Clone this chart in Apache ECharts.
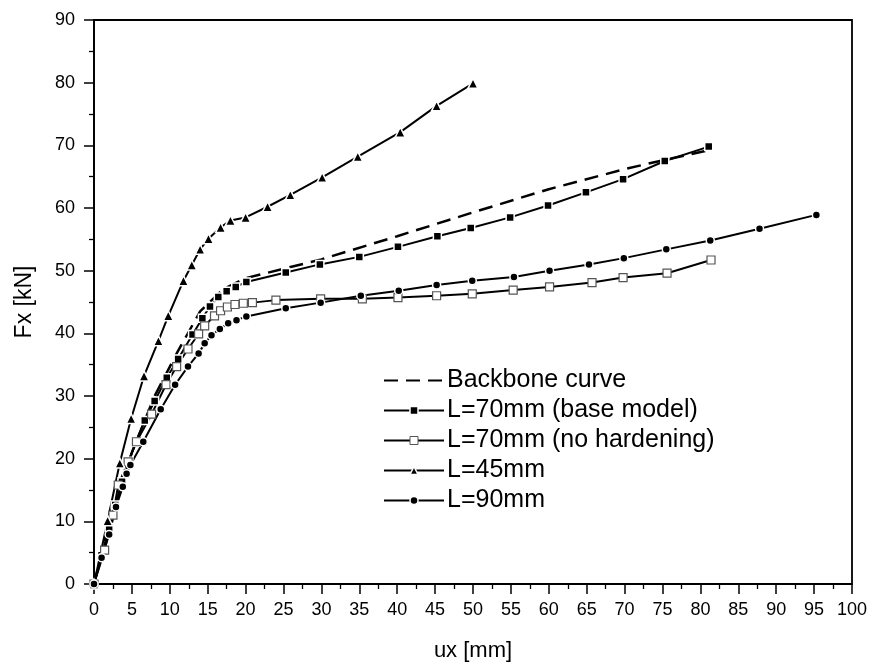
<!DOCTYPE html>
<html>
<head>
<meta charset="utf-8">
<script src="https://cdn.jsdelivr.net/npm/echarts@6/dist/echarts.min.js"></script>
<style>html,body{margin:0;padding:0;background:#fff}#c{width:872px;height:667px}</style>
</head>
<body>
<div id="c"></div>
<script>
// ---- data (ux [mm], Fx [kN]) ----
const seriesNames = ['Backbone curve', 'L=70mm (base model)', 'L=70mm (no hardening)', 'L=45mm', 'L=90mm'];
const backbone = [[0,0],[2,9.5],[5,21],[8,30],[11,37],[14,43.5],[17,47],[20,48.8],[25,50.3],[30,51.8],[40,55.5],[50,59.3],[60,63],[70,66.2],[75,67.6],[81,69.2]];
const base70 = [[0,0],[1.0,4.6],[2.0,9.0],[2.8,12.6],[3.7,16.3],[4.6,19.6],[5.5,22.6],[6.7,26.1],[8.0,29.2],[9.6,32.9],[11.1,35.9],[13.0,39.8],[14.3,42.4],[15.3,44.3],[16.4,45.8],[17.5,46.7],[18.7,47.4],[20.1,48.2],[25.3,49.7],[29.8,51.0],[35.0,52.2],[40.1,53.8],[45.3,55.5],[49.7,56.8],[54.9,58.5],[59.9,60.4],[64.9,62.5],[69.8,64.6],[75.3,67.5],[81.1,69.8]];
const noHard70 = [[0,0],[1.4,5.4],[2.5,11.0],[3.2,15.8],[4.5,19.5],[5.6,22.7],[7.6,27.1],[9.5,31.8],[10.9,34.7],[12.4,37.5],[13.8,39.9],[14.6,41.2],[15.9,42.8],[16.7,43.6],[17.6,44.2],[18.6,44.6],[19.7,44.8],[20.9,44.9],[24.0,45.3],[29.9,45.5],[35.4,45.5],[40.1,45.7],[45.2,46.0],[49.9,46.3],[55.3,46.9],[60.1,47.4],[65.7,48.1],[69.8,48.9],[75.6,49.6],[81.4,51.7]];
const l45 = [[0,0],[1.8,10.1],[3.4,19.3],[4.9,26.4],[6.6,33.2],[8.5,38.8],[9.8,42.8],[11.8,48.4],[12.9,50.9],[14.0,53.4],[15.1,55.1],[16.7,56.9],[18.0,58.0],[20.0,58.5],[22.9,60.2],[25.9,62.1],[30.1,64.9],[34.8,68.2],[40.4,72.1],[45.2,76.3],[50.0,79.9]];
const l90 = [[0,0],[1.0,4.2],[2.0,7.9],[2.9,12.3],[3.8,15.5],[4.3,17.6],[4.8,19.0],[6.5,22.7],[8.8,27.9],[10.7,31.8],[12.4,34.7],[13.8,36.8],[14.6,38.4],[15.5,39.7],[16.6,40.7],[17.7,41.6],[18.8,42.1],[20.1,42.7],[25.3,44.0],[29.9,44.9],[35.2,46.0],[40.2,46.8],[45.2,47.7],[49.9,48.4],[55.4,49.0],[60.1,50.0],[65.3,51.0],[69.9,52.0],[75.5,53.4],[81.3,54.8],[87.8,56.7],[95.3,58.9]];
const xTicks = {min: 0, max: 100, step: 5};
const yTicks = {min: 0, max: 90, step: 10};

const FONT = 'Liberation Sans, Arial, sans-serif';
const chart = echarts.init(document.getElementById('c'), null, {renderer: 'canvas'});

function markerSeries(name, data, symbol, size, fill, border) {
  return {
    name, type: 'line', data,
    symbol, symbolSize: size, showSymbol: true,
    lineStyle: {color: '#000', width: 2},
    itemStyle: {color: fill, borderColor: border, borderWidth: border === '#fff' ? 1.5 : 1.2},
    emphasis: {disabled: true},
    animation: false
  };
}

chart.setOption({
  backgroundColor: '#fff',
  animation: false,
  grid: {left: 94, right: 20, top: 20, bottom: 83, show: true, borderColor: '#000', borderWidth: 1.8, backgroundColor: 'transparent'},
  legend: {
    left: 378, top: 363, orient: 'vertical', itemWidth: 60, itemHeight: 10, itemGap: 5,
    textStyle: {fontFamily: FONT, fontSize: 25, color: '#000', padding: [0,0,0,-2]},
    data: [
      {name: seriesNames[0], itemStyle: {opacity: 0}},
      {name: seriesNames[1], itemStyle: {borderWidth: 1.5}},
      {name: seriesNames[2], itemStyle: {borderWidth: 1}},
      {name: seriesNames[3], itemStyle: {borderWidth: 1.5}},
      {name: seriesNames[4], itemStyle: {borderWidth: 1.5}}
    ]
  },
  xAxis: {
    type: 'value', min: xTicks.min, max: xTicks.max, interval: xTicks.step,
    name: 'ux [mm]', nameLocation: 'middle', nameGap: 56,
    nameTextStyle: {fontFamily: FONT, fontSize: 22, color: '#000'},
    axisLine: {show: true, lineStyle: {color: '#000', width: 1.8}},
    axisTick: {show: true, inside: false, length: 10, lineStyle: {color: '#000', width: 1.5}},
    minorTick: {show: true, splitNumber: 2, length: 5, lineStyle: {color: '#000', width: 1.3}},
    splitLine: {show: false},
    axisLabel: {fontFamily: FONT, fontSize: 18, color: '#000', margin: 17}
  },
  yAxis: {
    type: 'value', min: yTicks.min, max: yTicks.max, interval: yTicks.step,
    name: 'Fx [kN]', nameLocation: 'middle', nameGap: 58, nameRotate: 90,
    nameTextStyle: {fontFamily: FONT, fontSize: 23, color: '#000'},
    axisLine: {show: true, lineStyle: {color: '#000', width: 1.8}},
    axisTick: {show: true, inside: false, length: 10, lineStyle: {color: '#000', width: 1.5}},
    minorTick: {show: true, splitNumber: 2, length: 5, lineStyle: {color: '#000', width: 1.3}},
    splitLine: {show: false},
    axisLabel: {fontFamily: FONT, fontSize: 18, color: '#000', margin: 19}
  },
  series: [
    {
      name: seriesNames[0], type: 'line', data: backbone, symbol: 'none', showSymbol: false,
      lineStyle: {color: '#000', width: 2.5, type: [14, 8]},
      itemStyle: {color: '#000'}, emphasis: {disabled: true}, z: 3
    },
    markerSeries(seriesNames[1], base70, 'rect', 8, '#000', '#fff'),
    markerSeries(seriesNames[2], noHard70, 'rect', 8, '#fff', '#555'),
    markerSeries(seriesNames[3], l45, 'triangle', 10, '#000', '#fff'),
    markerSeries(seriesNames[4], l90, 'circle', 8, '#000', '#fff')
  ]
});
</script>
</body>
</html>
